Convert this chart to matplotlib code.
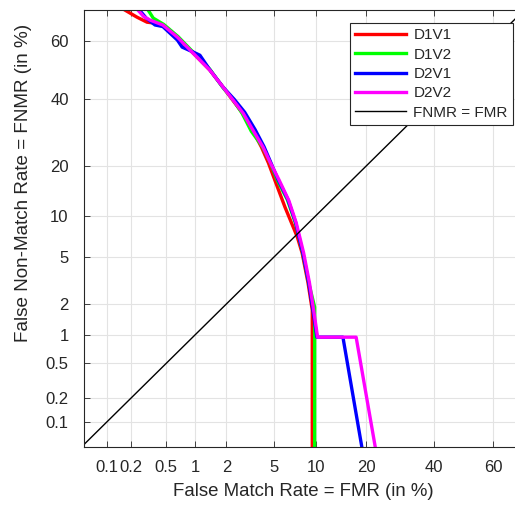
import matplotlib
matplotlib.use("Agg")
import matplotlib.pyplot as plt
import numpy as np
from statistics import NormalDist

plt.rcParams['font.family'] = ['Liberation Sans', 'DejaVu Sans']

# ticks (in %)
tick_vals = [0.1, 0.2, 0.5, 1, 2, 5, 10, 20, 40, 60]
tick_labels = ['0.1', '0.2', '0.5', '1', '2', '5', '10', '20', '40', '60']

# DET curves: (FMR %, FNMR %)
d1v1_fmr = [0.168, 0.234, 0.306, 0.377, 0.46, 0.66, 0.96, 1.4, 1.86, 2.28, 2.78, 3.38, 4.0, 4.55, 5.1, 6.1, 7.0, 7.5, 8.1, 8.9, 9.5, 9.5]
d1v1_fnmr = [70, 67.8, 66.2, 65.9, 65.0, 61.3, 55.8, 49.9, 44.0, 39.5, 35.2, 29.8, 24.9, 20.7, 16.7, 11.4, 8.4, 7.1, 5.4, 3.07, 1.75, 0.047]

d1v2_fmr = [0.315, 0.36, 0.47, 0.67, 0.97, 1.4, 1.84, 2.28, 2.75, 3.3, 4.08, 4.7, 5.33, 6.35, 7.25, 7.7, 8.2, 9.0, 9.85, 9.85]
d1v2_fnmr = [70, 67.5, 65.5, 61.5, 56.0, 50.2, 44.0, 39.8, 35.2, 29.5, 25.0, 20.8, 16.7, 12.7, 9.0, 7.1, 5.4, 3.07, 1.87, 0.047]

d2v1_fmr = [0.25, 0.30, 0.377, 0.46, 0.66, 0.74, 0.96, 1.12, 1.4, 1.86, 2.35, 2.9, 3.55, 4.2, 4.75, 5.4, 6.4, 7.3, 7.7, 8.2, 9.0, 9.6, 10.2, 14.8, 18.9]
d2v1_fnmr = [70, 67.5, 65.3, 64.8, 60.3, 57.9, 56.2, 55.1, 50.0, 44.0, 39.8, 35.5, 30.0, 25.0, 20.8, 16.8, 12.8, 9.0, 7.1, 5.4, 3.07, 1.75, 0.95, 0.95, 0.047]

d2v2_fmr = [0.24, 0.28, 0.33, 0.46, 0.66, 0.96, 1.4, 1.86, 2.3, 2.81, 3.41, 4.12, 4.72, 5.5, 6.5, 7.35, 7.8, 8.3, 9.1, 9.7, 10.3, 17.6, 22.2]
d2v2_fnmr = [70, 68.0, 66.9, 65.3, 61.3, 55.8, 49.9, 44.0, 39.5, 35.2, 29.8, 24.9, 20.7, 16.7, 12.6, 9.0, 7.1, 5.4, 3.07, 1.75, 0.95, 0.95, 0.047]

diag = [0.01, 80]

nd = NormalDist()
def probit(v):
    return np.array([nd.inv_cdf(x / 100.0) for x in v])

fig = plt.figure(figsize=(5.15, 5.05), dpi=100)
ax = fig.add_axes([84/515, 58/505, 439/515, 437/505])

lw = 2.4
ax.plot(probit(d1v1_fmr), probit(d1v1_fnmr), color='#ff0000', lw=lw, label='D1V1')
ax.plot(probit(d1v2_fmr), probit(d1v2_fnmr), color='#00ff00', lw=lw, label='D1V2')
ax.plot(probit(d2v1_fmr), probit(d2v1_fnmr), color='#0000ff', lw=lw, label='D2V1')
ax.plot(probit(d2v2_fmr), probit(d2v2_fnmr), color='#ff00ff', lw=lw, label='D2V2')
ax.plot(probit(diag), probit(diag), color='black', lw=1.0, label='FNMR = FMR')

ax.set_xlim(-3.287, 0.514)
ax.set_ylim(-3.309, 0.525)
tp = probit(tick_vals)
ax.set_xticks(tp)
ax.set_xticklabels(tick_labels)
ax.set_yticks(tp)
ax.set_yticklabels(tick_labels)
ax.grid(True, color='#e3e3e3', lw=0.8)
ax.set_axisbelow(True)
ax.tick_params(direction='in', length=4, top=True, right=True, labelsize=12,
               colors='#262626', width=0.6)
ax.tick_params(axis='x', pad=9)
ax.tick_params(axis='y', pad=11)
for s in ax.spines.values():
    s.set_color('#262626')
    s.set_linewidth(0.8)

ax.set_xlabel('False Match Rate = FMR (in %)', fontsize=13.4, color='#262626', labelpad=6)
ax.set_ylabel('False Non-Match Rate = FNMR (in %)', fontsize=13.6, color='#262626')
ax.yaxis.set_label_coords(-0.118, 0.605)

leg = ax.legend(loc='upper right', bbox_to_anchor=(513/515, 1 - 23/505),
                bbox_transform=fig.transFigure, fontsize=11, handlelength=3.3,
                fancybox=False, framealpha=1, edgecolor='#262626',
                borderpad=0.35, labelspacing=0.35, handletextpad=0.5, borderaxespad=0)
leg.get_frame().set_linewidth(0.8)
for t in leg.get_texts():
    t.set_color('#262626')

fig.savefig('out.png', dpi=100)
